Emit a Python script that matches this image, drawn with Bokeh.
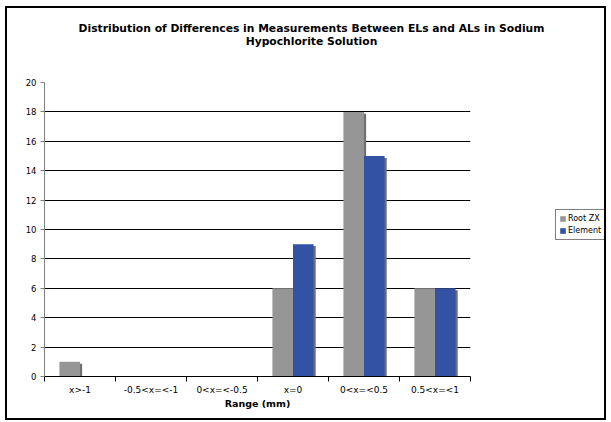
import numpy as np
from bokeh.plotting import figure
from bokeh.models import ColumnDataSource, FixedTicker, Range1d, Legend, LegendItem, Div
from bokeh.layouts import column, row
from bokeh.transform import dodge
from bokeh.embed import file_html
from bokeh.resources import INLINE

categories = ["x>-1", "-0.5<x=<-1", "0<x=<-0.5", "x=0", "0<x=<0.5", "0.5<x=<1"]
root_zx = [1, 0, 0, 6, 18, 6]
element = [0, 0, 0, 9, 15, 6]
series_names = ["Root ZX", "Element"]
y_ticks = list(range(0, 21, 2))
title_lines = ["Distribution of Differences in Measurements Between ELs and ALs in Sodium",
               "Hypochlorite Solution"]

pos = [i + 0.5 for i in range(len(categories))]
SH = 0.13
src = ColumnDataSource(dict(
    pos=pos,
    root=root_zx,
    elem=element,
    root_sh=[max(v - SH, 0) for v in root_zx],
    elem_sh=[max(v - SH, 0) for v in element],
))

FONT = "DejaVu Sans"
GREY = "#969696"
BLUE = "#3352A3"
SHADOW = "#707070"

TOTAL_W = 597
TITLE_H = 55
MAIN_W = 468
BODY_H = 355

# ---- title ----
title = Div(text="<br>".join(title_lines), width=TOTAL_W, height=TITLE_H, margin=0,
            styles={"font-family": FONT, "font-size": "10.75px", "font-weight": "bold",
                    "line-height": "13px", "text-align": "center", "color": "black",
                    "white-space": "nowrap", "padding-top": "14px", "padding-left": "12px",
                    "box-sizing": "border-box", "width": f"{TOTAL_W}px", "background": "white"})

# ---- main chart ----
p = figure(width=MAIN_W, height=BODY_H, output_backend="svg", toolbar_location=None,
           x_range=Range1d(0, len(categories)), y_range=Range1d(0, 20),
           min_border_left=37, min_border_right=5, min_border_top=19, min_border_bottom=42)
p.title = None
p.background_fill_color = "white"
p.border_fill_color = "white"
p.outline_line_color = None

bw = 0.29
off = bw / 2
sh_dx = 0.03
p.vbar(x=dodge("pos", -off + sh_dx, range=p.x_range), top="root_sh", width=bw, source=src,
       fill_color=SHADOW, line_color=None)
p.vbar(x=dodge("pos", off + sh_dx, range=p.x_range), top="elem_sh", width=bw, source=src,
       fill_color=SHADOW, line_color=None)
p.vbar(x=dodge("pos", -off, range=p.x_range), top="root", width=bw, source=src,
       fill_color=GREY, line_color=None)
p.vbar(x=dodge("pos", off, range=p.x_range), top="elem", width=bw, source=src,
       fill_color=BLUE, line_color=None)

p.xaxis.ticker = FixedTicker(ticks=pos, minor_ticks=list(range(len(categories) + 1)))
p.xaxis.major_label_overrides = {pv: c for pv, c in zip(pos, categories)}
p.xaxis.major_tick_line_color = None
p.xaxis.minor_tick_out = 5
p.xaxis.minor_tick_in = 0
p.xaxis.minor_tick_line_color = "black"
p.xaxis.axis_line_color = "black"
p.xaxis.major_label_text_font = FONT
p.xaxis.major_label_text_font_size = "9px"
p.xaxis.major_label_text_color = "black"
p.xaxis.major_label_standoff = 2
p.xaxis.axis_label = "Range (mm)"
p.xaxis.axis_label_text_font = FONT
p.xaxis.axis_label_text_font_size = "9.5px"
p.xaxis.axis_label_text_font_style = "bold"
p.xaxis.axis_label_text_color = "black"
p.xaxis.axis_label_standoff = 0

p.yaxis.ticker = FixedTicker(ticks=y_ticks)
p.yaxis.minor_tick_line_color = None
p.yaxis.major_tick_out = 4
p.yaxis.major_tick_in = 0
p.yaxis.major_tick_line_color = "#808080"
p.yaxis.axis_line_color = "#808080"
p.yaxis.major_label_text_font = FONT
p.yaxis.major_label_text_font_size = "8.5px"
p.yaxis.major_label_text_color = "black"
p.yaxis.major_label_standoff = 4

p.xgrid.grid_line_color = None
p.ygrid.ticker = FixedTicker(ticks=y_ticks)
p.ygrid.grid_line_color = "black"
p.ygrid.grid_line_width = 1

# ---- legend panel (own small figure; its renderers sit outside its visible range) ----
lp = figure(width=TOTAL_W - MAIN_W, height=BODY_H, output_backend="svg", toolbar_location=None,
            x_range=Range1d(-20, -19), y_range=Range1d(0, 20),
            x_axis_location=None, y_axis_location=None,
            min_border_left=0, min_border_right=0, min_border_top=0, min_border_bottom=0)
lp.title = None
lp.grid.grid_line_color = None
lp.outline_line_color = None
lp.background_fill_color = "white"
lp.border_fill_color = "white"
lr1 = lp.vbar(x="pos", top="root", width=bw, source=src, fill_color=GREY, line_color=None)
lr2 = lp.vbar(x="pos", top="elem", width=bw, source=src, fill_color=BLUE, line_color=None)

legend = Legend(items=[LegendItem(label=series_names[0], renderers=[lr1]),
                       LegendItem(label=series_names[1], renderers=[lr2])],
                location=(80, 136))
legend.label_text_font = FONT
legend.label_text_font_size = "8px"
legend.label_text_color = "black"
legend.glyph_width = 7
legend.glyph_height = 7
legend.label_height = 11
legend.label_standoff = 2
legend.padding = 3
legend.spacing = 1
legend.margin = 0
legend.border_line_color = "black"
legend.border_line_width = 1
legend.background_fill_color = "white"
lp.add_layout(legend)

layout = column(title, row(p, lp, spacing=0), spacing=0,
                styles={"border": "2px solid black", "background": "white",
                        "margin-left": "5px", "margin-top": "6px"})

open("out.html", "w").write(file_html(layout, INLINE))
